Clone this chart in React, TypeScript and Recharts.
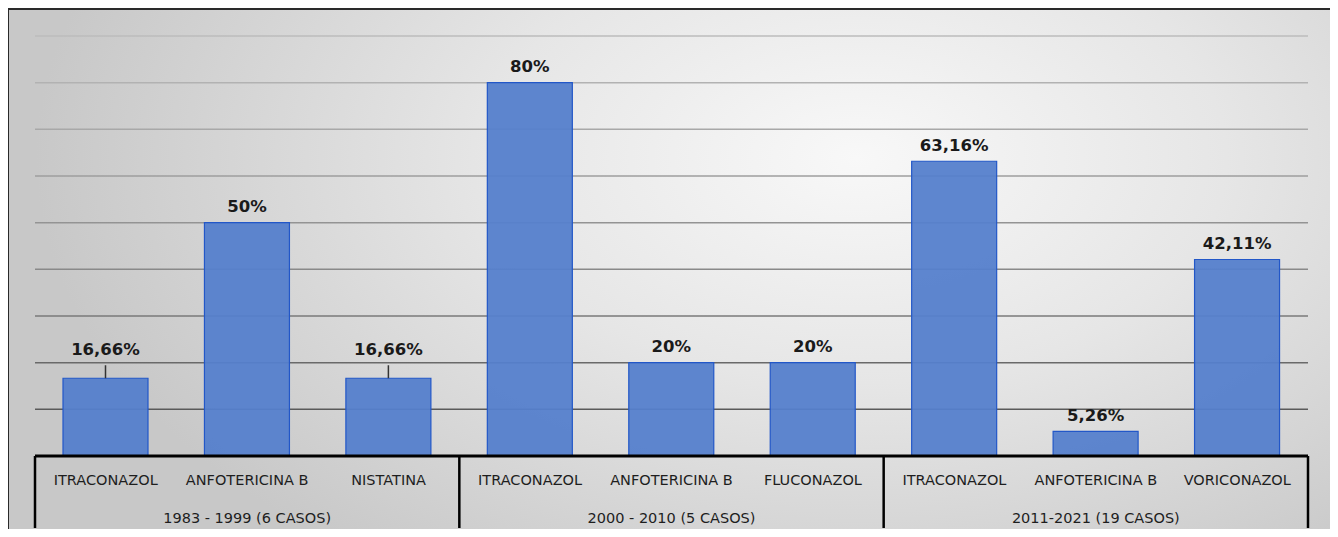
import React from 'react';
import { BarChart, Bar, XAxis, YAxis, CartesianGrid, LabelList } from 'recharts';

const drugs = [
  'ITRACONAZOL', 'ANFOTERICINA B', 'NISTATINA',
  'ITRACONAZOL', 'ANFOTERICINA B', 'FLUCONAZOL',
  'ITRACONAZOL', 'ANFOTERICINA B', 'VORICONAZOL',
];
const periods = ['1983 - 1999 (6 CASOS)', '2000 - 2010 (5 CASOS)', '2011-2021 (19 CASOS)'];
const values = [16.66, 50, 16.66, 80, 20, 20, 63.16, 5.26, 42.11];
const yTicks = [0, 10, 20, 30, 40, 50, 60, 70, 80, 90];

const data = drugs.map((d, i) => ({
  drug: d,
  period: periods[Math.floor(i / 3)],
  value: values[i],
}));

const W = 1325;
const H = 527;
const M = { top: 26, right: 26, bottom: 0, left: 26 };
const PLOT_H = 420;
const PLOT_W = W - M.left - M.right;
const BAND = PLOT_W / drugs.length;
const GROUP = 3;
const LEADER_IDX = [0, 2];
const FONT = '"DejaVu Sans", sans-serif';

const fmt = (v: number) => String(v).replace('.', ',') + '%';

const AxisTick = (props: any) => {
  const { x, y, index, payload } = props;
  const label = drugs[index] ?? payload?.value;
  const els: any[] = [];
  els.push(
    <text key="d" x={x} y={y + 29} textAnchor="middle" fontFamily={FONT} fontSize={14.5} fill="#1e1e1e">
      {label}
    </text>
  );
  if (index % GROUP === 1) {
    els.push(
      <text key="g" x={x} y={y + 66.5} textAnchor="middle" fontFamily={FONT} fontSize={14.5} fill="#1e1e1e">
        {periods[Math.floor(index / GROUP)]}
      </text>
    );
  }
  if (index % GROUP === 0) {
    els.push(<line key="l" x1={x - BAND / 2} x2={x - BAND / 2} y1={y} y2={y + 72} stroke="#000" strokeWidth={2.5} />);
  }
  if (index === drugs.length - 1) {
    els.push(<line key="r" x1={x + BAND / 2} x2={x + BAND / 2} y1={y} y2={y + 72} stroke="#000" strokeWidth={2.5} />);
  }
  return <g>{els}</g>;
};

const ValueLabel = (props: any) => {
  const { x, y, width, value, index } = props;
  const cx = Number(x) + Number(width) / 2;
  const top = Number(y);
  const leader = LEADER_IDX.includes(index);
  return (
    <g>
      {leader && <line x1={cx} x2={cx} y1={top - 13} y2={top} stroke="#333" strokeWidth={1.5} />}
      <text
        x={cx}
        y={leader ? top - 23 : top - 10.5}
        textAnchor="middle"
        fontFamily={FONT}
        fontWeight="bold"
        fontSize={16.5}
        fill="#1a1a1a"
      >
        {fmt(Number(value))}
      </text>
    </g>
  );
};

export default function App() {
  return (
    <div
      style={{
        marginLeft: -1,
        marginBottom: -8,
        width: W,
        height: H,
        border: '2px solid #2a2a2a',
        borderBottom: 'none',
        background:
          'radial-gradient(ellipse 62% 95% at 64% 28%, #f8f8f8 0%, #e6e6e6 45%, #c8c8c8 100%)',
        overflow: 'hidden',
      }}
    >
      <BarChart width={W} height={H} data={data} margin={M}>
        <defs>
          <linearGradient id="gridGrad" gradientUnits="userSpaceOnUse" x1="0" y1={M.top} x2="0" y2={M.top + PLOT_H}>
            <stop offset="0%" stopColor="#bcbcbc" />
            <stop offset="55%" stopColor="#8a8a8a" />
            <stop offset="100%" stopColor="#4a4a4a" />
          </linearGradient>
        </defs>
        <CartesianGrid vertical={false} stroke="url(#gridGrad)" strokeWidth={1.5} />
        <YAxis hide domain={[0, 90]} ticks={yTicks} />
        <XAxis
          dataKey="drug"
          height={H - M.top - PLOT_H}
          interval={0}
          tickLine={false}
          tickSize={0}
          tickMargin={0}
          axisLine={{ stroke: '#000', strokeWidth: 3 }}
          tick={<AxisTick />}
        />
        <Bar
          dataKey="value"
          barSize={85}
          fill="#5580cc"
          fillOpacity={0.95}
          stroke="#2257c8"
          strokeWidth={1.2}
          isAnimationActive={false}
        >
          <LabelList dataKey="value" content={<ValueLabel />} />
        </Bar>
      </BarChart>
    </div>
  );
}
